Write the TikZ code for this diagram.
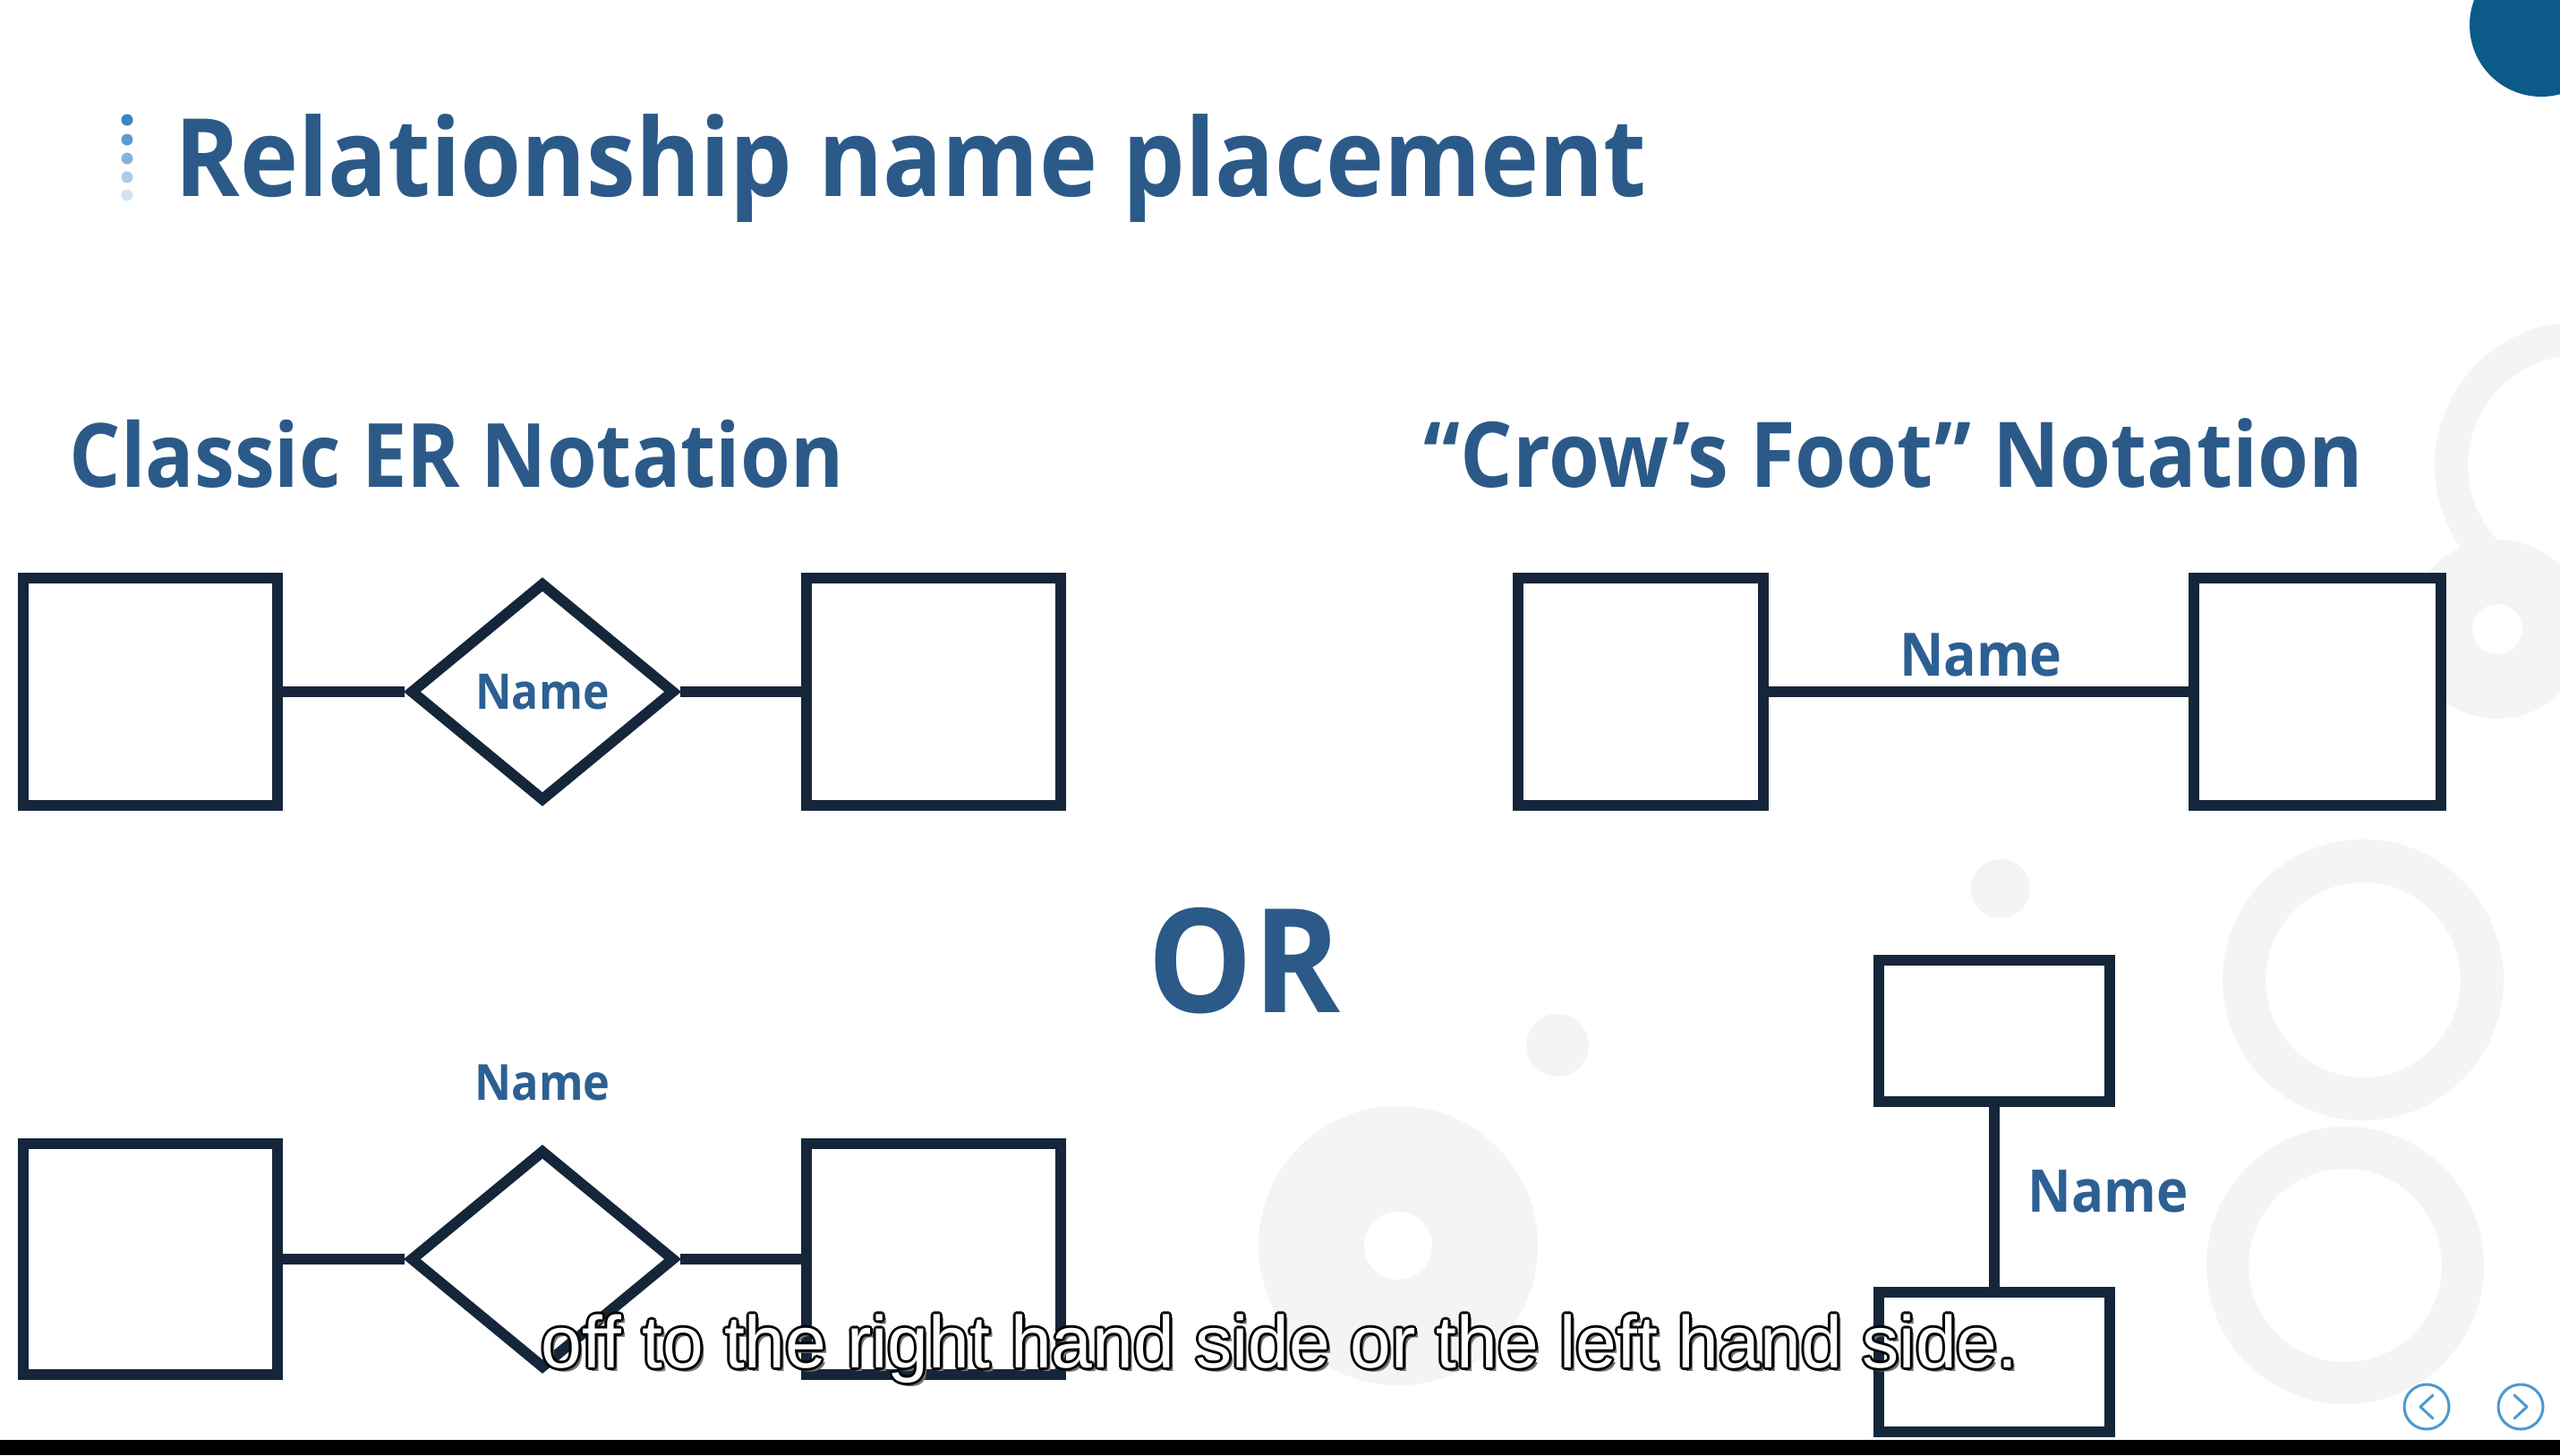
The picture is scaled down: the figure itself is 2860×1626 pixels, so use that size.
\documentclass[tikz,border=0pt]{standalone}
\usepackage{fontspec}
\setmainfont{Open Sans}
\newfontfamily\headfont{Open Sans}[FakeStretch=0.91]
\newfontfamily\capfont{Liberation Sans}
\usetikzlibrary{shapes.geometric,calc}
\definecolor{ink}{HTML}{15263A}
\definecolor{headblue}{HTML}{2B5A89}
\definecolor{labelblue}{HTML}{2D6092}
\definecolor{ringgray}{HTML}{F4F4F4}
\definecolor{cornerblue}{HTML}{0C5A88}
\definecolor{navblue}{HTML}{4A9AD0}
\newcommand\captiontext{off to the right hand side or the left hand side.}

\begin{document}
\begin{tikzpicture}[x=0.01cm,y=-0.01cm,
  entity/.style={rectangle, draw=ink, line width=0.12cm, fill=white, inner sep=0pt, line join=miter},
  relation/.style={diamond, draw=ink, line width=0.12cm, fill=white, inner sep=0pt, line join=miter,
    minimum width=2.96cm, minimum height=2.45cm, text=labelblue,
    font=\headfont\bfseries\fontsize{15.6}{18}\selectfont},
  link/.style={draw=ink, line width=0.12cm},
  heading/.style={inner sep=0pt, anchor=base west, text=headblue},
  relname/.style={inner sep=0pt, text=labelblue, font=\headfont\bfseries\fontsize{#1}{#1}\selectfont},
  subtext/.style={inner sep=0pt, anchor=base west, font=\capfont\fontsize{23.4}{28}\selectfont},
  ring/.style={fill=ringgray, even odd rule},
  navring/.style={draw=navblue, line width=0.03cm},
  navarrow/.style={draw=navblue, line width=0.03cm, line cap=round, line join=round}
]
\useasboundingbox (0,0) rectangle (2860,1626);
\fill[white] (0,0) rectangle (2860,1626);

% faint decorative rings in the background
\fill[ring] (1562,1392) circle (156) (1562,1392) circle (38);
\fill[ring] (2640,1095) circle (157) (2640,1095) circle (109);
\fill[ring] (2620,1414) circle (155) (2620,1414) circle (108);
\fill[ring] (2880,520) circle (160) (2880,520) circle (123);
\fill[ring] (2790,703) circle (100) (2790,703) circle (28);
\fill[ringgray] (1740,1168) circle (35);
\fill[ringgray] (2235,993) circle (33);

% corner badge
\fill[cornerblue] (2839,28) circle (80);

% bottom strip and slide navigation
\fill[black] (0,1609) rectangle (2860,1626);
\draw[navring] (2711,1572) circle (25);
\draw[navring] (2816,1572) circle (25);
\draw[navarrow] (2718,1559) -- (2704,1572) -- (2718,1585);
\draw[navarrow] (2809,1559) -- (2823,1572) -- (2809,1585);

% bullet dots and title
\fill[fill={rgb,255:red,58;green,134;blue,196}] (142,134) circle (6.5);
\fill[fill={rgb,255:red,94;green,155;blue,208}] (142,156) circle (6.5);
\fill[fill={rgb,255:red,134;green,178;blue,219}] (142,177) circle (6.5);
\fill[fill={rgb,255:red,174;green,203;blue,230}] (142,198) circle (6.5);
\fill[fill={rgb,255:red,213;green,227;blue,240}] (142,218) circle (6.5);
\node[heading, font=\headfont\bfseries\fontsize{34.4}{40}\selectfont] (title) at (195,219) {Relationship name placement};

% section headings
\node[heading, font=\headfont\bfseries\fontsize{28.2}{34}\selectfont] (classic) at (77,544) {Classic ER Notation};
\node[heading, font=\headfont\bfseries\fontsize{28.8}{34}\selectfont] (crow) at (1590,544) {“Crow’s Foot” Notation};
\node[inner sep=0pt, anchor=base, text=headblue,
  font=\headfont\bfseries\fontsize{46}{50}\selectfont] (or) at (1390,1131) {OR};

% classic notation, name inside the diamond
\node[entity, minimum width=2.84cm, minimum height=2.54cm] (A) at (168,773) {};
\node[relation] (R1) at (606,773) {Name};
\node[entity, minimum width=2.84cm, minimum height=2.54cm] (B) at (1043,773) {};
\draw[link] (A.east) -- (R1.west);
\draw[link] (R1.east) -- (B.west);

% classic notation, name above the diamond
\node[entity, minimum width=2.84cm, minimum height=2.58cm] (E) at (168,1407) {};
\node[relation] (R2) at (606,1407) {};
\node[entity, minimum width=2.84cm, minimum height=2.58cm] (F) at (1043,1407) {};
\draw[link] (E.east) -- (R2.west);
\draw[link] (R2.east) -- (F.west);
\node[relname=15.8, anchor=base] (n2) at (606,1229) {Name};

% crow's foot notation, horizontal
\node[entity, minimum width=2.74cm, minimum height=2.54cm] (C) at (1833,773) {};
\node[entity, minimum width=2.76cm, minimum height=2.54cm] (D) at (2589,773) {};
\draw[link] (C.east) -- (D.west);
\node[relname=19, anchor=base] (n3) at (2213,755) {Name};

% crow's foot notation, vertical
\node[entity, minimum width=2.58cm, minimum height=1.57cm] (G) at (2228,1152) {};
\node[entity, minimum width=2.58cm, minimum height=1.56cm] (H) at (2228,1522) {};
\draw[link] (G.south) -- (H.north);
\node[relname=18.7, anchor=base west] (n4) at (2265,1354) {Name};

% caption line: soft shadow, black outline, then white letters
\node[subtext, text=black!55] (capshadow) at (608,1532) {\captiontext};
\foreach \dx/\dy [count=\k] in {-3/0,3/0,0/-3,0/3,-2/-2,2/-2,-2/2,2/2}
  \node[subtext, text=black] (capo\k) at ($(604,1528)+(\dx,\dy)$) {\captiontext};
\node[subtext, text=white] (caption) at (604,1528) {\captiontext};
\end{tikzpicture}
\end{document}
